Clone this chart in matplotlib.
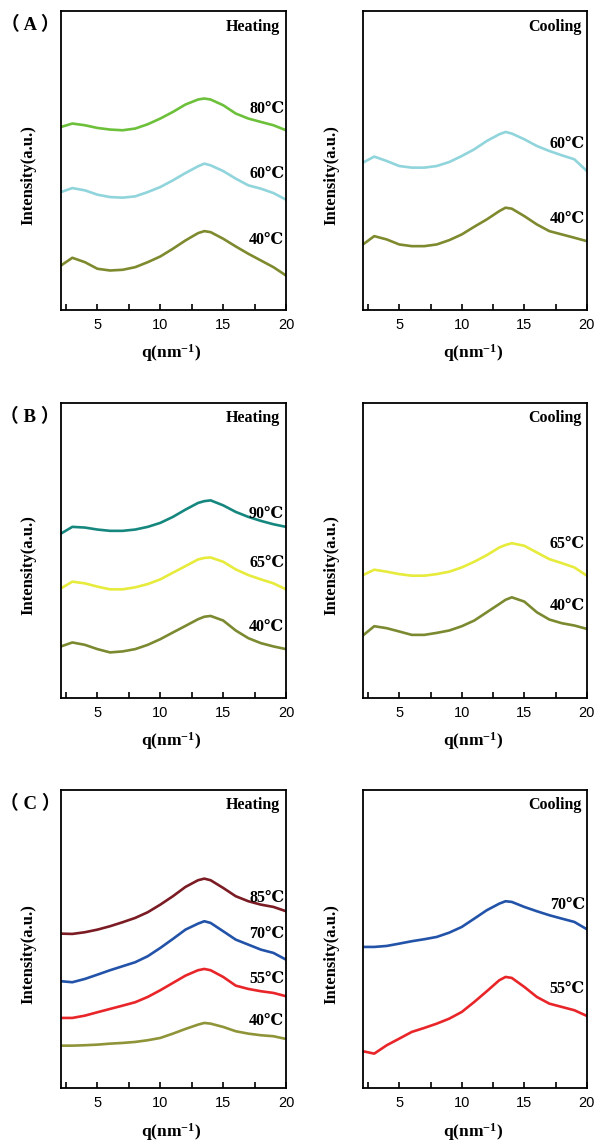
import matplotlib
matplotlib.use("Agg")
import matplotlib.pyplot as plt
from matplotlib.ticker import MultipleLocator

plt.rcParams['font.family'] = ['Liberation Serif', 'DejaVu Serif', 'Noto Sans CJK SC']
plt.rcParams['mathtext.fontset'] = 'custom'
plt.rcParams['mathtext.rm'] = 'Liberation Serif:bold'
plt.rcParams['mathtext.default'] = 'rm'

# scattering vector (nm^-1), shared by all curves
q = [2.1, 3, 4, 5, 6, 7, 8, 9, 10, 11, 12, 13, 13.5, 14, 15, 16, 17, 18, 19, 20]

# (A) heating
a_heat_80 = [182.3, 185.7, 184, 181.3, 179.7, 179, 180.7, 185, 190.7, 197.3, 204.7, 209.7, 210.7, 209.7, 204, 195.7, 190.7, 187.3, 184, 179]
a_heat_60 = [117.3, 121.3, 119, 114.7, 112.3, 111.7, 113, 117.3, 122.3, 129, 136.3, 143, 145.7, 144, 138.3, 130.7, 124, 120.7, 116.3, 109.7]
a_heat_40 = [44, 51.7, 47.3, 40.7, 39, 39.7, 42.3, 47.3, 53, 60.7, 69, 76.3, 78.3, 77.3, 70.7, 63, 55.7, 49, 42.3, 34]
# (A) cooling
a_cool_60 = [146.7, 152.7, 148.3, 143.3, 141.7, 141.7, 143.3, 147.3, 153.3, 160, 168.3, 175, 177.3, 175.7, 170, 163.3, 158.3, 154, 150, 138.3]
a_cool_40 = [65, 73.3, 70, 65, 63.3, 63.3, 65, 69.3, 75, 82.7, 90, 98.3, 101.7, 100.7, 93.3, 85, 78.3, 75, 71.7, 68.3]

# (B) heating
b_heat_90 = [165, 171.7, 171, 169, 167.7, 167.7, 169, 171.7, 175.7, 181.7, 189, 195.7, 197.5, 198.3, 193.3, 186.7, 181.7, 177.7, 174.3, 171.7]
b_heat_65 = [110, 116.7, 115, 111.7, 109, 109, 111, 114.3, 119, 125.7, 132.3, 139, 140.5, 141, 136.7, 129, 123.3, 119, 115, 109]
b_heat_40 = [51.7, 55.7, 53.3, 49, 45.7, 46.7, 49, 53.3, 59, 65.7, 72.3, 79, 81.5, 82.3, 77.7, 67.7, 60, 55, 51.7, 49]
# (B) cooling
b_cool_65 = [123.3, 128.7, 126.7, 124.3, 122.7, 122.7, 124.3, 126.7, 131, 136.7, 143.3, 151, 153.5, 155.3, 152.7, 146, 139.3, 135.3, 131, 122.7]
b_cool_40 = [62.7, 72, 70, 66.7, 63.3, 63.3, 65.3, 67.7, 72, 77.7, 86, 94.3, 98.5, 101, 96.7, 86, 78.7, 75, 72.7, 69.3]

# (C) heating
c_heat_85 = [154.3, 154, 155.7, 158.3, 161.7, 165.7, 170, 175.7, 183.3, 191.7, 201, 207.7, 209.3, 207.7, 200, 191.7, 186.7, 183.3, 181, 176.7]
c_heat_70 = [106.7, 105.7, 109, 113.3, 117.7, 121.7, 125.7, 131.7, 140, 149, 158.3, 164.3, 166.7, 165, 156.7, 148.3, 143.3, 138.3, 135, 128.3]
c_heat_55 = [70, 70, 72.3, 75.7, 79, 82.3, 85.7, 91, 97.7, 105, 112.3, 117.7, 119, 117.7, 111, 102.3, 99, 96.7, 95, 91.7]
c_heat_40 = [42.3, 42.3, 42.7, 43.3, 44.3, 45, 46, 47.7, 50, 54.3, 59, 63.3, 65, 64.3, 61, 56.7, 54.3, 52.7, 51.7, 49]
# (C) cooling
c_cool_70 = [141, 141, 142, 144.3, 146.7, 148.7, 151, 155.3, 161, 169.3, 177.7, 184.3, 186.7, 186, 181, 176.7, 172.7, 169.3, 166, 158.7]
c_cool_55 = [36.7, 34.3, 42.7, 49.3, 56, 60, 64.3, 69.3, 76, 86, 96.7, 107.7, 111, 110, 101, 91, 84.3, 81, 77.7, 72]

panels = [
    # (letter, mode, curves as (values, label, label height, colour), axes rect, ymax)
    ('（ A ）', 'Heating', [(a_heat_80, '80℃', 200.7, '#6cc03a'),
                           (a_heat_60, '60℃', 135.7, '#90d4dc'),
                           (a_heat_40, '40℃', 69, '#7f8a2e')],
     [0.1022, 0.7287, 0.3769, 0.2616], 298),
    (None, 'Cooling', [(a_cool_60, '60℃', 165, '#90d4dc'),
                       (a_cool_40, '40℃', 90, '#7f8a2e')],
     [0.608, 0.7287, 0.375, 0.2616], 298),
    ('（ B ）', 'Heating', [(b_heat_90, '90℃', 185, '#16877f'),
                           (b_heat_65, '65℃', 135.7, '#e6eb3c'),
                           (b_heat_40, '40℃', 71.7, '#7b8a30')],
     [0.1022, 0.3883, 0.3769, 0.2585], 296),
    (None, 'Cooling', [(b_cool_65, '65℃', 154.3, '#e6eb3c'),
                       (b_cool_40, '40℃', 92.7, '#7b8a30')],
     [0.608, 0.3883, 0.375, 0.2585], 296),
    ('（ C ）', 'Heating', [(c_heat_85, '85℃', 190, '#7b1c24'),
                           (c_heat_70, '70℃', 154.3, '#2253a8'),
                           (c_heat_55, '55℃', 109, '#e8262a'),
                           (c_heat_40, '40℃', 66.7, '#8f9438')],
     [0.1022, 0.0465, 0.3769, 0.2612], 298),
    (None, 'Cooling', [(c_cool_70, '70℃', 183.3, '#2253a8'),
                       (c_cool_55, '55℃', 99.3, '#e8262a')],
     [0.608, 0.0465, 0.375, 0.2612], 298),
]

fig = plt.figure(figsize=(5.97, 11.41), dpi=100)

for letter, mode, curves, rect, ymax in panels:
    ax = fig.add_axes(rect)
    for vals, lab, ylab, col in curves:
        ax.plot(q, vals, color=col, lw=1.9, solid_joinstyle='round')
        ax.text(19.85, ylab, lab, ha='right', va='center', fontsize=11.5,
                fontweight='bold')
    ax.set_xlim(2.1, 20)
    ax.set_ylim(0, ymax)
    ax.set_yticks([])
    ax.xaxis.set_major_locator(MultipleLocator(5))
    ax.xaxis.set_minor_locator(MultipleLocator(2.5))
    ax.tick_params(axis='x', which='both', direction='in', top=False,
                   length=4, width=1.2, pad=6)
    for lbl in ax.get_xticklabels():
        lbl.set_fontfamily('Liberation Sans')
        lbl.set_fontsize(10.5)
    for sp in ax.spines.values():
        sp.set_linewidth(1.3)
    ax.text(0.975, 0.948, mode, transform=ax.transAxes, ha='right', va='center',
            fontsize=11.5, fontweight='bold')
    ax.set_ylabel('Intensity(a.u.)', fontsize=12, fontweight='bold')
    ax.yaxis.set_label_coords(-0.11 if rect[0] < 0.5 else -0.107, 0.45)
    ax.set_xlabel(r'q(nm$^{-1}$)', fontsize=12.5, fontweight='bold')
    ax.xaxis.set_label_coords(0.49, -0.11)
    if letter:
        fig.text(0.05, rect[1] + rect[3] - 0.0125, letter, ha='center', va='center',
                 fontsize=13.5, fontweight='bold',
                 family=['Liberation Serif', 'Noto Sans CJK SC'])

fig.savefig('out.png', dpi=100)
